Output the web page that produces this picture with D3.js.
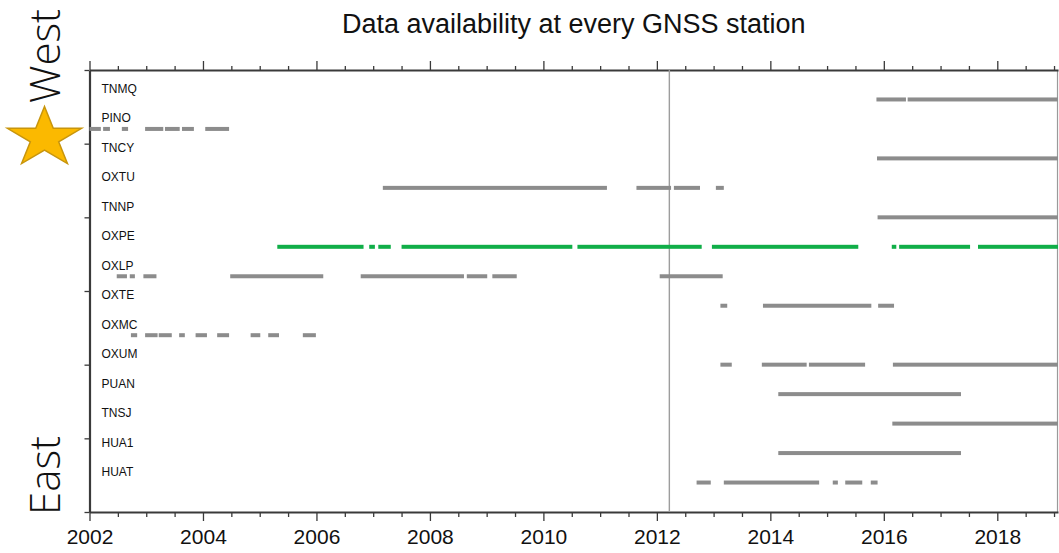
<!DOCTYPE html>
<html>
<head>
<meta charset="utf-8">
<script src="https://cdn.jsdelivr.net/npm/d3@7"></script>
<style>
  html, body { margin: 0; padding: 0; background: #fff; }
  svg { display: block; }
</style>
</head>
<body>
<svg id="chart" width="1059" height="553"></svg>
<script>
// Stations, listed west (top) to east (bottom)
const stations = ["TNMQ", "PINO", "TNCY", "OXTU", "TNNP", "OXPE", "OXLP",
                  "OXTE", "OXMC", "OXUM", "PUAN", "TNSJ", "HUA1", "HUAT"];
const highlighted = "OXPE";

// Recording periods per station, in decimal years [start, end]
const segTNMQ = [[2015.87, 2016.39], [2016.42, 2019.07]];
const segPINO = [[2002.00, 2002.20], [2002.24, 2002.36], [2002.57, 2002.68],
                 [2002.98, 2003.30], [2003.33, 2003.59], [2003.63, 2003.84],
                 [2004.04, 2004.46]];
const segTNCY = [[2015.88, 2019.07]];
const segOXTU = [[2007.17, 2011.12], [2011.64, 2012.25], [2012.30, 2012.76],
                 [2013.04, 2013.18]];
const segTNNP = [[2015.89, 2019.07]];
const segOXPE = [[2005.31, 2006.83], [2006.93, 2007.03], [2007.09, 2007.31],
                 [2007.50, 2010.51], [2010.60, 2012.79], [2012.97, 2015.55],
                 [2016.14, 2016.22], [2016.27, 2017.52], [2017.66, 2019.07]];
const segOXLP = [[2002.48, 2002.66], [2002.71, 2002.80], [2002.95, 2003.18],
                 [2004.48, 2006.12], [2006.78, 2008.60], [2008.65, 2009.01],
                 [2009.10, 2009.53], [2012.05, 2013.16]];
const segOXTE = [[2013.12, 2013.24], [2013.87, 2015.78], [2015.90, 2016.18]];
const segOXMC = [[2002.73, 2002.84], [2002.98, 2003.20], [2003.22, 2003.45],
                 [2003.58, 2003.68], [2003.87, 2004.07], [2004.25, 2004.46],
                 [2004.84, 2005.01], [2005.15, 2005.34], [2005.76, 2005.99]];
const segOXUM = [[2013.12, 2013.32], [2013.85, 2014.64], [2014.68, 2015.67],
                 [2016.16, 2019.07]];
const segPUAN = [[2014.14, 2017.36]];
const segTNSJ = [[2016.15, 2019.07]];
const segHUA1 = [[2014.14, 2017.36]];
const segHUAT = [[2012.70, 2012.95], [2013.18, 2014.86], [2015.10, 2015.19],
                 [2015.32, 2015.62], [2015.77, 2015.89]];

const periods = [segTNMQ, segPINO, segTNCY, segOXTU, segTNNP, segOXPE, segOXLP,
                 segOXTE, segOXMC, segOXUM, segPUAN, segTNSJ, segHUA1, segHUAT];

// Axis settings
const yearTicks = [2002, 2004, 2006, 2008, 2010, 2012, 2014, 2016, 2018];
const xDomain = [2002, 2019.07];
const eventYear = 2012.22;        // vertical reference line
const starRow = 2.31;             // position of the star marker on the row scale

const svg = d3.select("#chart");
const W = 1059, H = 553;
const margin = { left: 89.5, right: 1, top: 70, bottom: 41 };

const x = d3.scaleLinear().domain(xDomain).range([margin.left, W - margin.right]);
const y = d3.scaleLinear().domain([0, stations.length + 1]).range([margin.top, H - margin.bottom]);

const axisColor = "#3a3a3a";
const barGray = "#8c8c8c";
const barGreen = "#10ae48";

// Title
svg.append("text")
  .attr("x", (x.range()[0] + x.range()[1]) / 2)
  .attr("y", 33)
  .attr("text-anchor", "middle")
  .attr("font-family", "Liberation Sans, Arial, sans-serif")
  .attr("font-size", 27)
  .attr("fill", "#111")
  .text("Data availability at every GNSS station");

// Right frame edge
svg.append("line")
  .attr("x1", x(xDomain[1]) - 0.5).attr("x2", x(xDomain[1]) - 0.5)
  .attr("y1", y(0)).attr("y2", y(stations.length + 1))
  .attr("stroke", "#9a9a9a").attr("stroke-width", 1.2);

// Minor year ticks every half year
const minorTicks = d3.range(2002, 2019.01, 0.5).filter(v => !yearTicks.includes(v));

// Bottom axis
const axisB = svg.append("g")
  .attr("transform", `translate(0,${y(stations.length + 1)})`);
axisB.call(d3.axisBottom(x).tickValues(yearTicks).tickFormat(d3.format("d"))
  .tickSize(9).tickSizeOuter(0).tickPadding(8));
axisB.append("g").call(d3.axisBottom(x).tickValues(minorTicks).tickSize(5).tickFormat(""))
  .select(".domain").remove();
axisB.selectAll("text")
  .attr("font-family", "Liberation Sans, Arial, sans-serif")
  .attr("font-size", 21).attr("fill", "#111");

// Top axis (ticks only)
const axisT = svg.append("g").attr("transform", `translate(0,${y(0)})`);
axisT.call(d3.axisTop(x).tickValues(yearTicks).tickFormat("").tickSize(9).tickSizeOuter(0));
axisT.append("g").call(d3.axisTop(x).tickValues(minorTicks).tickSize(4).tickFormat(""))
  .select(".domain").remove();

// Left axis (ticks only)
const axisL = svg.append("g").attr("transform", `translate(${x(xDomain[0])},0)`);
axisL.call(d3.axisLeft(y).tickValues(d3.range(0, stations.length + 1.01, 2.5))
  .tickFormat("").tickSize(5).tickSizeOuter(0));

[axisB, axisT, axisL].forEach(g => {
  g.selectAll(".domain").attr("stroke", axisColor).attr("stroke-width", 2);
  g.selectAll(".tick line").attr("stroke", axisColor).attr("stroke-width", 1.3);
});
axisL.select(".domain").attr("stroke-width", 2.2);

// Event line
svg.append("line")
  .attr("x1", x(eventYear)).attr("x2", x(eventYear))
  .attr("y1", y(0)).attr("y2", y(stations.length + 1))
  .attr("stroke", "#9d9d9d").attr("stroke-width", 1.4);

// Station labels
svg.append("g").selectAll("text")
  .data(stations)
  .join("text")
  .attr("x", x(xDomain[0]) + 12)
  .attr("y", (d, i) => y(i + 1) - 6.5)
  .attr("font-family", "Liberation Sans, Arial, sans-serif")
  .attr("font-size", 12)
  .attr("fill", "#111")
  .text(d => d);

// Availability bars
const rows = stations.flatMap((s, i) => periods[i].map(p => ({ station: s, row: i + 1, start: p[0], end: p[1] })));
const barH = 4;
svg.append("g").selectAll("rect")
  .data(rows)
  .join("rect")
  .attr("x", d => x(d.start))
  .attr("width", d => Math.max(0, x(d.end) - x(d.start)))
  .attr("y", d => y(d.row) - barH / 2)
  .attr("height", barH)
  .attr("fill", d => d.station === highlighted ? barGreen : barGray);

// Region labels
const sideFont = "Open Sans, Lato, Liberation Sans, sans-serif";
svg.append("text")
  .attr("transform", `translate(60,${y(1.12)}) rotate(-90)`)
  .attr("font-family", sideFont).attr("font-weight", 300)
  .attr("font-size", 42).attr("fill", "#111")
  .text("West");
svg.append("text")
  .attr("transform", `translate(60,${y(15.1)}) rotate(-90)`)
  .attr("font-family", sideFont).attr("font-weight", 300)
  .attr("font-size", 42).attr("fill", "#111")
  .text("East");

// Star marker
const starPts = [];
const Rx = 39, Ry = 31.5, inner = 0.382;
for (let k = 0; k < 10; k++) {
  const a = -Math.PI / 2 + k * Math.PI / 5;
  const r = k % 2 === 0 ? 1 : inner;
  starPts.push([Math.cos(a) * Rx * r, Math.sin(a) * Ry * r]);
}
svg.append("path")
  .attr("transform", `translate(${x(xDomain[0]) - 45},${y(starRow)})`)
  .attr("d", d3.line()(starPts) + "Z")
  .attr("fill", "#fbb900")
  .attr("stroke", "#c8950c")
  .attr("stroke-width", 1.5)
  .attr("stroke-linejoin", "miter");
</script>
</body>
</html>
